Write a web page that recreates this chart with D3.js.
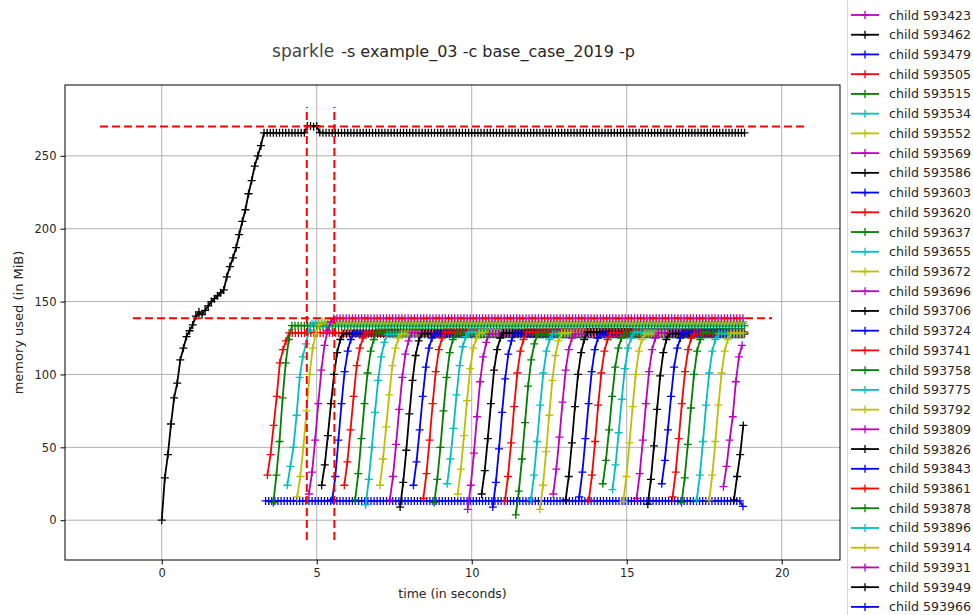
<!DOCTYPE html>
<html lang="en">
<head>
<meta charset="UTF-8" />
<title>sparkle memory profile</title>
<script src="https://cdn.jsdelivr.net/npm/d3@7"></script>
<style>
body{margin:0;background:#fff;}
svg{display:block;font-family:"DejaVu Sans",sans-serif;}
.tick text{fill:#262626;}
</style>
</head>
<body>
<svg id="chart" width="973" height="615"></svg>
<script>
// sampling step of mprof (seconds) and the last sample time
const dt = 0.1;
const endTime = 18.8;

// main process, one value per sample from t=0; [v, n] = v repeated n times
const mainValues = [0, 29, 45, 66, 84, 94, 110, 118, 126, 130, 134, 140, 143, 141, 144, 147, 150, 152, 154, 156,
  158, 167, 174, 180, 187, 196, 205, 213, 224, 233, 243, 250, 257,
  [265.8, 14], 270.5, 270.5, 270, 270.5, 266, [265.8, 137]];

// children: start time, rising samples, plateau level, final sample
const childStart = [3.35, 3.41, 3.60, 4.05, 4.37, 4.75, 5.16, 5.50, 5.89, 6.24, 6.58, 7.04, 7.36, 7.69, 8.12,
  8.44, 8.79, 9.21, 9.55, 9.87, 10.32, 10.68, 11.07, 11.42, 11.91, 12.20, 12.63, 13.03, 13.47, 13.78,
  14.23, 14.54, 14.89, 15.32, 15.68, 16.13, 16.48, 16.77, 17.26, 17.66, 18.12, 18.46];
const childRise = [
  [13.2],
  [31, 45, 65, 85, 108, 117, 123],
  [12, 31, 54, 84, 108, 124],
  [24, 37, 50, 72, 98, 112, 121, 130],
  [16, 30, 50, 75, 100, 118, 128, 134],
  [18, 33, 55, 80, 103, 120, 130, 136],
  [24, 38, 58, 80, 100, 115, 124],
  [14, 30, 55, 80, 102, 116, 124],
  [24, 40, 62, 85, 106, 118, 125],
  [14, 32, 56, 80, 101, 116, 124],
  [10.5, 28, 50, 74, 96, 112, 122],
  [24, 42, 64, 86, 106, 118, 125],
  [14, 30, 52, 76, 98, 114, 123],
  [9, 26, 48, 73, 96, 113, 123],
  [24, 40, 62, 85, 105, 118, 125],
  [15, 32, 55, 80, 102, 117, 125],
  [12, 28, 50, 75, 98, 115, 124],
  [25, 42, 63, 86, 106, 119, 126],
  [18, 35, 58, 82, 104, 118, 125],
  [7.5, 24, 46, 71, 95, 112, 122],
  [18, 34, 56, 80, 103, 117, 125],
  [9, 26, 49, 74, 97, 114, 123],
  [13, 30, 53, 78, 101, 116, 124],
  [3.6, 20, 42, 67, 92, 110, 121],
  [14, 31, 54, 79, 101, 116, 124],
  [7.5, 24, 47, 72, 96, 113, 123],
  [18, 35, 57, 81, 103, 117, 125],
  [14, 30, 53, 78, 100, 115, 124],
  [16, 33, 56, 80, 102, 117, 125],
  [14, 31, 54, 79, 101, 116, 124],
  [25, 41, 62, 85, 105, 118, 125],
  [21, 38, 60, 83, 104, 118, 125],
  [13, 30, 53, 78, 100, 116, 124],
  [15, 32, 55, 80, 102, 117, 125],
  [11, 28, 51, 76, 99, 115, 124],
  [25, 41, 62, 85, 105, 118, 125],
  [16, 33, 56, 80, 102, 117, 125],
  [12, 29, 52, 77, 100, 116, 124],
  [14, 31, 54, 79, 101, 116, 124],
  [14, 31, 54, 79, 101, 116, 124],
  [23, 37, 55, 71, 95, 112, 120],
  [14, 30, 45, 65]
];
const childLevel = [13.2, 128.5, 133.5, 135, 136.3, 138.5, 128, 128.5, 128.5, 129, 127.5, 128, 128.5, 128, 128,
  129, 128, 129, 128.5, 128, 128.5, 128, 129, 127.5, 128, 128.5, 128, 129, 128, 128.5,
  128, 129, 128, 128.5, 128, 128.5, 128, 129, 128, 128.5, 128, 128];
const childLast = [9.5];

// legend rows visible in the picture (children 5 .. 35)
const legendFirstChild = 5;
const legendPids = [593423, 593462, 593479, 593505, 593515, 593534, 593552, 593569, 593586, 593603, 593620,
  593637, 593655, 593672, 593696, 593706, 593724, 593741, 593758, 593775, 593792, 593809, 593826,
  593843, 593861, 593878, 593896, 593914, 593931, 593949, 593966];

// max-memory markers drawn by mprof
const maxLinesH = [{v: 270.2, x0: -1.99, x1: 20.75}, {v: 138.5, x0: -0.93, x1: 19.69}];
const maxLinesV = [{t: 4.68, y0: -13.5, y1: 283.5}, {t: 5.57, y0: -13.5, y1: 283.5}];

const xTicks = [0, 5, 10, 15, 20];
const yTicks = [0, 50, 100, 150, 200, 250];
const colorCycle = ['#0000ff', '#ff0000', '#008000', '#00bfbf', '#bfbf00', '#bf00bf', '#000000'];

function expand(vals){
  let out = [];
  vals.forEach(v => { if (Array.isArray(v)) { for (let i = 0; i < v[1]; i++) out.push(v[0]); } else out.push(v); });
  return out.map((m, i) => ({t: i * dt, m: m}));
}

function childSeries(k){
  let t0 = childStart[k], pts = [], i = 0;
  let n = Math.floor((endTime - t0) / dt + 1e-6) + 1;
  for (i = 0; i < n; i++) {
    let m = i < childRise[k].length ? childRise[k][i] : childLevel[k];
    pts.push({t: t0 + i * dt, m: m});
  }
  if (childLast[k] != null) pts[pts.length - 1].m = childLast[k];
  return pts;
}

const svg = d3.select('#chart');
const x = d3.scaleLinear().domain([-3.12, 21.88]).range([65, 840]);
const y = d3.scaleLinear().domain([-27.3, 298.6]).range([560, 85]);

// grid
const grid = svg.append('g');
grid.selectAll('.gx').data(xTicks).enter().append('line')
  .attr('x1', d => x(d)).attr('x2', d => x(d)).attr('y1', 85).attr('y2', 560)
  .attr('stroke', '#b0b0b0').attr('stroke-width', 1);
grid.selectAll('.gy').data(yTicks).enter().append('line')
  .attr('y1', d => y(d)).attr('y2', d => y(d)).attr('x1', 65).attr('x2', 840)
  .attr('stroke', '#b0b0b0').attr('stroke-width', 1);

// axes
const ax = svg.append('g').attr('transform', 'translate(0,560)')
  .call(d3.axisBottom(x).tickValues(xTicks).tickSize(4.5).tickPadding(4).tickFormat(d3.format('d')));
const ay = svg.append('g').attr('transform', 'translate(65,0)')
  .call(d3.axisLeft(y).tickValues(yTicks).tickSize(4.5).tickPadding(4).tickFormat(d3.format('d')));
[ax, ay].forEach(a => {
  a.select('.domain').remove();
  a.selectAll('text').attr('font-size', 11.5).attr('font-family', '"DejaVu Sans",sans-serif');
  a.selectAll('line').attr('stroke', '#000').attr('stroke-width', 1);
});

const clip = svg.append('clipPath').attr('id', 'clip').append('rect')
  .attr('x', 65).attr('y', 85).attr('width', 775).attr('height', 475);
const plot = svg.append('g').attr('clip-path', 'url(#clip)');

const line = d3.line().x(d => x(d.t)).y(d => y(d.m));
function plusPath(pts, r){
  return pts.map(d => `M${x(d.t) - r},${y(d.m)}h${2 * r}M${x(d.t)},${y(d.m) - r}v${2 * r}`).join('');
}
function drawSeries(pts, color){
  let g = plot.append('g');
  g.append('path').attr('d', line(pts)).attr('fill', 'none').attr('stroke', color).attr('stroke-width', 1.8);
  g.append('path').attr('d', plusPath(pts, 4)).attr('fill', 'none').attr('stroke', color).attr('stroke-width', 1.3);
}

drawSeries(expand(mainValues), '#000000');
childStart.forEach((s, k) => drawSeries(childSeries(k), colorCycle[k % colorCycle.length]));

// max memory dashed lines
plot.selectAll('.mh').data(maxLinesH).enter().append('line')
  .attr('x1', d => x(d.x0)).attr('x2', d => x(d.x1)).attr('y1', d => y(d.v)).attr('y2', d => y(d.v))
  .attr('stroke', '#ff0000').attr('stroke-width', 2).attr('stroke-dasharray', '8,4');
plot.selectAll('.mv').data(maxLinesV).enter().append('line')
  .attr('x1', d => x(d.t)).attr('x2', d => x(d.t)).attr('y1', d => y(d.y0)).attr('y2', d => y(d.y1))
  .attr('stroke', '#ff0000').attr('stroke-width', 2).attr('stroke-dasharray', '8,4');

// frame
svg.append('rect').attr('x', 65).attr('y', 85).attr('width', 775).attr('height', 475)
  .attr('fill', 'none').attr('stroke', '#000').attr('stroke-width', 1);

// labels
svg.append('text').attr('x', 452.5).attr('y', 598).attr('text-anchor', 'middle')
  .attr('font-size', 12.5).attr('fill', '#262626').text('time (in seconds)');
svg.append('text').attr('transform', 'translate(23,322.5) rotate(-90)').attr('text-anchor', 'middle')
  .attr('font-size', 13).attr('fill', '#262626').text('memory used (in MiB)');
const title = svg.append('text').attr('x', 453.5).attr('y', 57).attr('text-anchor', 'middle').attr('fill', '#262626');
title.append('tspan').attr('font-size', 17).attr('fill', '#444').text('sparkle');
title.append('tspan').attr('dx', 7).attr('font-size', 16).text('-s example_03 -c base_case_2019 -p');

// legend (only the rows that fit in the figure)
const legend = svg.append('g');
legend.append('rect').attr('x', 847.5).attr('y', -10).attr('width', 160).attr('height', 640)
  .attr('fill', '#fff').attr('stroke', '#d6d6d6').attr('stroke-width', 1);
const ly = d3.scaleLinear().domain([0, 1]).range([15, 34.73]);
const rows = legend.selectAll('.row').data(legendPids).enter().append('g')
  .attr('transform', (d, i) => `translate(0,${ly(i)})`);
rows.append('line').attr('x1', 851).attr('x2', 879).attr('y1', 0).attr('y2', 0)
  .attr('stroke', (d, i) => colorCycle[(i + legendFirstChild) % colorCycle.length]).attr('stroke-width', 1.8);
rows.append('path').attr('d', 'M861,0h8M865,-4v8').attr('fill', 'none')
  .attr('stroke', (d, i) => colorCycle[(i + legendFirstChild) % colorCycle.length]).attr('stroke-width', 1.3);
rows.append('text').attr('x', 889).attr('y', 4.5).attr('font-size', 12.6).attr('fill', '#262626')
  .text(d => 'child ' + d);
</script>
</body>
</html>
